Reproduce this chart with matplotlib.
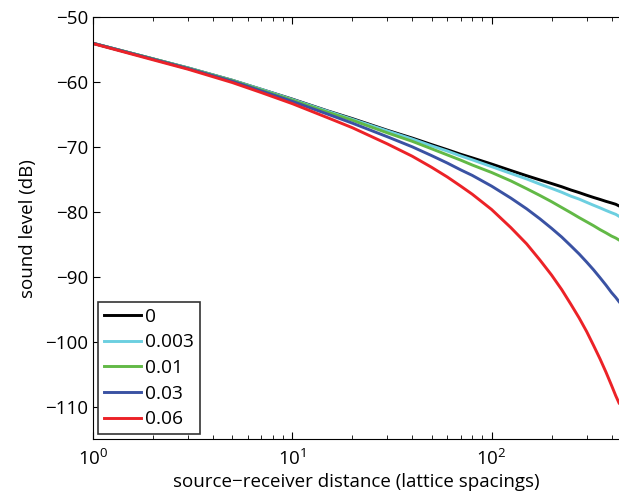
import numpy as np
import matplotlib
matplotlib.use('Agg')
import matplotlib.pyplot as plt

plt.rcParams['font.family'] = ['Open Sans', 'DejaVu Sans']
plt.rcParams['mathtext.fontset'] = 'custom'
plt.rcParams['mathtext.rm'] = 'Open Sans'
plt.rcParams['mathtext.it'] = 'Open Sans'

# distance (lattice spacings)
dist = [1, 2, 3, 5, 7, 10, 15, 20, 30, 40, 50, 60, 70, 80, 100, 125, 150, 175, 200, 225,
        250, 275, 300, 325, 350, 375, 400, 420, 436]

# sound level (dB), one list per absorption value
lvl_0 = [-54.0, -56.4, -57.8, -59.7, -61.1, -62.6, -64.4, -65.6, -67.4, -68.6, -69.6, -70.4,
         -71.1, -71.65, -72.6, -73.6, -74.4, -75.05, -75.6, -76.1, -76.6, -77.0, -77.4, -77.75,
         -78.05, -78.35, -78.6, -78.8, -79.05]
lvl_003 = [-54.0, -56.4, -57.8, -59.7, -61.1, -62.65, -64.45, -65.7, -67.5, -68.75, -69.8,
           -70.6, -71.35, -71.95, -73.0, -74.05, -74.9, -75.7, -76.35, -76.95, -77.55, -78.0,
           -78.5, -78.95, -79.35, -79.75, -80.1, -80.35, -80.65]
lvl_01 = [-54.0, -56.4, -57.85, -59.75, -61.2, -62.75, -64.6, -65.85, -67.8, -69.1, -70.25,
          -71.2, -72.0, -72.75, -73.9, -75.2, -76.4, -77.45, -78.4, -79.3, -80.1, -80.85, -81.5,
          -82.1, -82.7, -83.2, -83.7, -84.0, -84.3]
lvl_03 = [-54.0, -56.45, -57.9, -59.85, -61.35, -62.95, -64.9, -66.3, -68.4, -69.95, -71.3,
          -72.45, -73.5, -74.35, -76.0, -77.85, -79.5, -81.05, -82.5, -83.85, -85.2, -86.45,
          -87.7, -88.9, -90.1, -91.25, -92.4, -93.15, -93.8]
lvl_06 = [-54.05, -56.55, -58.0, -60.05, -61.6, -63.3, -65.45, -67.0, -69.5, -71.4, -73.1,
          -74.6, -76.0, -77.25, -79.6, -82.4, -84.9, -87.4, -89.7, -91.95, -94.2, -96.3, -98.4,
          -100.55, -102.6, -104.65, -106.7, -108.3, -109.4]

labels = ['0', '0.003', '0.01', '0.03', '0.06']
colors = ['#000000', '#6ccfe0', '#62b946', '#3a52a3', '#ec2227']

fig = plt.figure(figsize=(6.19, 4.95), dpi=100)
ax = fig.add_axes([93/619, 1-439.3/495, 526/619, (439.3-17.3)/495])

for y, lab, c in zip([lvl_0, lvl_003, lvl_01, lvl_03, lvl_06], labels, colors):
	ax.semilogx(dist, y, color=c, lw=2.1, label=lab)

ax.set_xlim(1, 436)
ax.set_ylim(-115, -50)
ax.set_yticks(np.arange(-110, -49, 10))
ax.set_yticklabels(['\u2212%d' % abs(v) for v in np.arange(-110, -49, 10)])
ax.spines['right'].set_visible(False)
ax.tick_params(which='both', direction='in', top=True, labelsize=13.5)
ax.tick_params(which='major', length=5)
ax.tick_params(which='minor', length=3)
ax.tick_params(axis='x', pad=7)

ax.set_xlabel('source\u2212receiver distance (lattice spacings)', fontsize=13.5, labelpad=3)
ax.set_ylabel('sound level (dB)', fontsize=13.5, labelpad=6)

leg = ax.legend(loc='lower left', bbox_to_anchor=(0.0, 0.0), fontsize=13.8,
		handlelength=1.95, handletextpad=0.2, labelspacing=0.4,
		borderpad=0.3, borderaxespad=0.27, fancybox=False, framealpha=1)
leg.get_frame().set_edgecolor('#333333')
leg.get_frame().set_linewidth(1.2)

plt.savefig('out.png', dpi=100)
